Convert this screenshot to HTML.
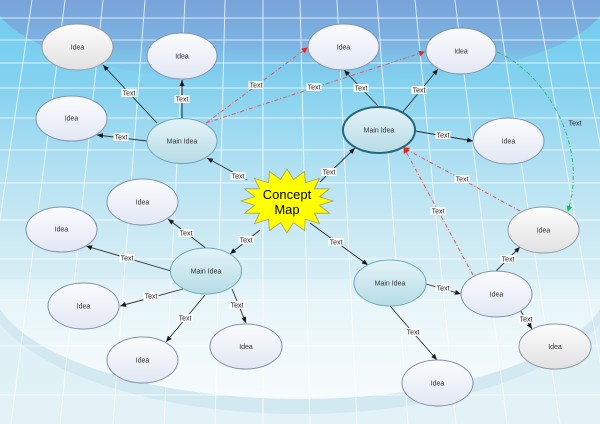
<!DOCTYPE html>
<html><head><meta charset="utf-8">
<style>
html,body{margin:0;padding:0;width:600px;height:424px;overflow:hidden;background:#dff1f6;}
svg{display:block;}
.lbl{font-family:"Liberation Sans",Arial,sans-serif;font-size:7px;fill:#222;text-anchor:middle;}
.nt{font-family:"Liberation Sans",Arial,sans-serif;font-size:7px;fill:#333;text-anchor:middle;}
</style></head>
<body>
<svg width="600" height="424" viewBox="0 0 600 424" xmlns="http://www.w3.org/2000/svg">
<defs>
  <linearGradient id="bg" x1="0" y1="0" x2="0" y2="424" gradientUnits="userSpaceOnUse">
    <stop offset="0" stop-color="#6ccbef"/>
    <stop offset="0.21" stop-color="#86d2ef"/>
    <stop offset="0.36" stop-color="#a9def2"/>
    <stop offset="0.52" stop-color="#c8e8f3"/>
    <stop offset="0.71" stop-color="#dcf0f6"/>
    <stop offset="1" stop-color="#e3f2f7"/>
  </linearGradient>
  <linearGradient id="topEl" x1="0" y1="0" x2="0" y2="85" gradientUnits="userSpaceOnUse">
    <stop offset="0" stop-color="#79a3d9" stop-opacity="1"/>
    <stop offset="0.5" stop-color="#7cb0e0" stop-opacity="0.9"/>
    <stop offset="1" stop-color="#82c4ea" stop-opacity="0"/>
  </linearGradient>
  <linearGradient id="inEl" x1="0" y1="250" x2="0" y2="400" gradientUnits="userSpaceOnUse">
    <stop offset="0" stop-color="#ffffff" stop-opacity="0"/>
    <stop offset="1" stop-color="#f5fbfd" stop-opacity="1"/>
  </linearGradient>
  <linearGradient id="gBlue" x1="0" y1="0" x2="0" y2="1">
    <stop offset="0" stop-color="#fbfcfe"/>
    <stop offset="1" stop-color="#e2e7f3"/>
  </linearGradient>
  <linearGradient id="gGray" x1="0" y1="0" x2="0" y2="1">
    <stop offset="0" stop-color="#fdfdfd"/>
    <stop offset="1" stop-color="#e1e1e1"/>
  </linearGradient>
  <linearGradient id="gTeal" x1="0" y1="0" x2="0" y2="1">
    <stop offset="0" stop-color="#e4f3f7"/>
    <stop offset="1" stop-color="#b6dce6"/>
  </linearGradient>
  <clipPath id="lowHalf"><rect x="0" y="279" width="600" height="145"/></clipPath>
  <marker id="ab" markerUnits="userSpaceOnUse" markerWidth="6" markerHeight="5" refX="6" refY="2.5" orient="auto">
    <path d="M0,0 L6,2.5 L0,5 z" fill="#1a1a1a"/>
  </marker>
  <marker id="ar" markerUnits="userSpaceOnUse" markerWidth="6" markerHeight="6" refX="5" refY="3" orient="auto">
    <path d="M0,0 L6,3 L0,6 z" fill="#ee2222"/>
  </marker>
  <marker id="ag" markerUnits="userSpaceOnUse" markerWidth="6" markerHeight="6" refX="5" refY="3" orient="auto">
    <path d="M0,0 L6,3 L0,6 z" fill="#22bb55"/>
  </marker>
</defs>

<!-- background -->
<rect x="0" y="0" width="600" height="424" fill="url(#bg)"/>
<ellipse cx="300" cy="0" rx="305" ry="85" fill="url(#topEl)"/>

<!-- bottom ellipse band -->
<ellipse cx="300" cy="279" rx="310" ry="120" fill="url(#inEl)" clip-path="url(#lowHalf)"/>
<path clip-path="url(#lowHalf)" fill-rule="evenodd" fill="#d2e9f1"
  d="M-18,279 A318,135 0 1,0 618,279 A318,135 0 1,0 -18,279 Z M-10,279 A310,120 0 1,0 610,279 A310,120 0 1,0 -10,279 Z"/>

<!-- grid -->
<g stroke="#ffffff" stroke-opacity="0.75" stroke-width="1" fill="none">
  <line x1="0" y1="18" x2="600" y2="18"/>
  <line x1="0" y1="40" x2="600" y2="40"/>
  <line x1="0" y1="63" x2="600" y2="63"/>
  <line x1="0" y1="88" x2="600" y2="88"/>
  <line x1="0" y1="118" x2="600" y2="118"/>
  <line x1="0" y1="150" x2="600" y2="150"/>
  <line x1="0" y1="183" x2="600" y2="183"/>
  <line x1="0" y1="220" x2="600" y2="220"/>
  <line x1="0" y1="259" x2="600" y2="259"/>
  <line x1="0" y1="300" x2="600" y2="300"/>
  <line x1="0" y1="346" x2="600" y2="346"/>
  <line x1="0" y1="395" x2="600" y2="395"/>
  <line x1="32" y1="0" x2="-30" y2="424"/>
  <line x1="65" y1="0" x2="11" y2="424"/>
  <line x1="103" y1="0" x2="60" y2="424"/>
  <line x1="145" y1="0" x2="113" y2="424"/>
  <line x1="185" y1="0" x2="164" y2="424"/>
  <line x1="225" y1="0" x2="215" y2="424"/>
  <line x1="263" y1="0" x2="263" y2="424"/>
  <line x1="300" y1="0" x2="310" y2="424"/>
  <line x1="337" y1="0" x2="357" y2="424"/>
  <line x1="377" y1="0" x2="408" y2="424"/>
  <line x1="415" y1="0" x2="456" y2="424"/>
  <line x1="455" y1="0" x2="507" y2="424"/>
  <line x1="497" y1="0" x2="560" y2="424"/>
  <line x1="537" y1="0" x2="611" y2="424"/>
  <line x1="572" y1="0" x2="655" y2="424"/>
</g>

<!-- black connectors -->
<g stroke="#2a2a2a" stroke-width="0.9" fill="none" marker-end="url(#ab)">
  <line x1="157" y1="123" x2="103" y2="65"/>
  <line x1="182" y1="118" x2="182" y2="80" stroke="#3c5a66" stroke-width="1.4"/>
  <line x1="147" y1="141" x2="97" y2="135"/>
  <line x1="247" y1="180" x2="207" y2="158"/>
  <line x1="379" y1="107" x2="344" y2="70"/>
  <line x1="402" y1="113" x2="438" y2="69"/>
  <line x1="415" y1="131" x2="473" y2="141"/>
  <line x1="320" y1="182" x2="355" y2="148"/>
  <line x1="260" y1="230" x2="230" y2="254"/>
  <line x1="310" y1="223" x2="368" y2="265"/>
  <line x1="207" y1="249" x2="168" y2="219"/>
  <line x1="171" y1="271" x2="86" y2="246"/>
  <line x1="183" y1="289" x2="120" y2="306"/>
  <line x1="205" y1="295" x2="166" y2="342"/>
  <line x1="232" y1="289" x2="246" y2="323"/>
  <line x1="426" y1="284" x2="461" y2="294"/>
  <line x1="390" y1="306" x2="437" y2="360"/>
  <line x1="496" y1="271" x2="520" y2="247"/>
  <line x1="520" y1="310" x2="532" y2="329"/>
</g>

<!-- red dashed connectors -->
<g stroke="#e35a5a" stroke-width="1" fill="none" stroke-dasharray="4 2 1 2" marker-end="url(#ar)">
  <line x1="206" y1="123" x2="307" y2="48"/>
  <line x1="206" y1="123" x2="424" y2="52"/>
  <line x1="473" y1="275" x2="404" y2="148"/>
  <line x1="520" y1="211" x2="404" y2="148"/>
</g>
<!-- green dashed curve -->
<path d="M497,52 C540,70 590,140 568,211" stroke="#2fbb72" stroke-width="1" fill="none" stroke-dasharray="4 2 1 2" marker-end="url(#ag)"/>

<!-- nodes -->
<g stroke-width="1">
  <ellipse cx="77.5" cy="47" rx="35.5" ry="23" fill="url(#gGray)" stroke="#8f9aa6"/>
  <ellipse cx="182" cy="56" rx="35" ry="23" fill="url(#gBlue)" stroke="#7f93ad"/>
  <ellipse cx="71.5" cy="118.5" rx="35.5" ry="22.5" fill="url(#gBlue)" stroke="#7f93ad"/>
  <ellipse cx="182" cy="141" rx="35" ry="22.5" fill="url(#gTeal)" stroke="#6ea8bb"/>
  <ellipse cx="142.5" cy="202" rx="35.5" ry="23" fill="url(#gBlue)" stroke="#7f93ad"/>
  <ellipse cx="61.5" cy="229.5" rx="35.5" ry="22.5" fill="url(#gBlue)" stroke="#7f93ad"/>
  <ellipse cx="206" cy="271" rx="35.5" ry="23" fill="url(#gTeal)" stroke="#6ea8bb"/>
  <ellipse cx="83.5" cy="306" rx="35.5" ry="23" fill="url(#gBlue)" stroke="#7f93ad"/>
  <ellipse cx="142.5" cy="360" rx="35.5" ry="23" fill="url(#gBlue)" stroke="#7f93ad"/>
  <ellipse cx="246" cy="346.5" rx="36" ry="22.5" fill="url(#gBlue)" stroke="#7f93ad"/>
  <ellipse cx="343.5" cy="47" rx="35.5" ry="23" fill="url(#gBlue)" stroke="#7f93ad"/>
  <ellipse cx="461" cy="51" rx="35" ry="23" fill="url(#gBlue)" stroke="#7f93ad"/>
  <ellipse cx="379" cy="130" rx="36" ry="23" fill="url(#gTeal)" stroke="#27687c" stroke-width="2"/>
  <ellipse cx="508.5" cy="141" rx="35.5" ry="23" fill="url(#gBlue)" stroke="#7f93ad"/>
  <ellipse cx="543.5" cy="230" rx="35.5" ry="23" fill="url(#gGray)" stroke="#8f9aa6"/>
  <ellipse cx="390" cy="283" rx="36" ry="23" fill="url(#gTeal)" stroke="#6ea8bb"/>
  <ellipse cx="496.5" cy="294" rx="35.5" ry="23" fill="url(#gBlue)" stroke="#7f93ad"/>
  <ellipse cx="555" cy="346.5" rx="36" ry="22.5" fill="url(#gGray)" stroke="#8f9aa6"/>
  <ellipse cx="437.5" cy="383" rx="35.5" ry="23" fill="url(#gBlue)" stroke="#7f93ad"/>
</g>
<g class="nt">
  <text class="nt" x="77.5" y="49.5">Idea</text>
  <text class="nt" x="182" y="58.5">Idea</text>
  <text class="nt" x="71.5" y="120.5">Idea</text>
  <text class="nt" x="182" y="143.5">Main Idea</text>
  <text class="nt" x="142.5" y="204.5">Idea</text>
  <text class="nt" x="61.5" y="231.5">Idea</text>
  <text class="nt" x="206" y="273.5">Main Idea</text>
  <text class="nt" x="83.5" y="308.5">Idea</text>
  <text class="nt" x="142.5" y="362.5">Idea</text>
  <text class="nt" x="246" y="349">Idea</text>
  <text class="nt" x="343.5" y="49.5">Idea</text>
  <text class="nt" x="461" y="53.5">Idea</text>
  <text class="nt" x="379" y="132.5">Main Idea</text>
  <text class="nt" x="508.5" y="143.5">Idea</text>
  <text class="nt" x="543.5" y="232.5">Idea</text>
  <text class="nt" x="390" y="285.5">Main Idea</text>
  <text class="nt" x="496.5" y="296.5">Idea</text>
  <text class="nt" x="555" y="349">Idea</text>
  <text class="nt" x="437.5" y="385.5">Idea</text>
</g>

<!-- starburst -->
<polygon fill="#ffff00" stroke="#a0a060" stroke-width="0.8"
 points="287,169 293.4,179.4 304.6,171.4 305.3,182.7 319.5,178.4 314.4,188.8 329.5,188.8 319.4,196.7 333,201 319.4,205.3 329.5,213.2 314.4,213.2 319.5,223.6 305.3,219.3 304.6,230.6 293.4,222.6 287,233 280.6,222.6 269.4,230.6 268.7,219.3 254.5,223.6 259.6,213.2 244.5,213.2 254.6,205.3 241,201 254.6,196.7 244.5,188.8 259.6,188.8 254.5,178.4 268.7,182.7 269.4,171.4 280.6,179.4"/>
<text x="287" y="199" font-family="Liberation Sans, Arial, sans-serif" font-size="13" fill="#000" text-anchor="middle">Concept</text>
<text x="287" y="214" font-family="Liberation Sans, Arial, sans-serif" font-size="13" fill="#000" text-anchor="middle">Map</text>

<!-- labels -->
<g fill="#ffffff">
  <rect x="121.5" y="89" width="15" height="8"/>
  <rect x="174.5" y="95" width="15" height="8"/>
  <rect x="113.5" y="133" width="15" height="8"/>
  <rect x="230.5" y="172" width="15" height="8"/>
  <rect x="353.5" y="84" width="15" height="8"/>
  <rect x="411.5" y="86" width="15" height="8"/>
  <rect x="435.5" y="131" width="15" height="8"/>
  <rect x="321.5" y="168" width="15" height="8"/>
  <rect x="238.5" y="236" width="15" height="8"/>
  <rect x="328.5" y="238" width="15" height="8"/>
  <rect x="178.5" y="229" width="15" height="8"/>
  <rect x="119.5" y="254" width="15" height="8"/>
  <rect x="143.5" y="292" width="15" height="8"/>
  <rect x="177.5" y="314" width="15" height="8"/>
  <rect x="229.5" y="301" width="15" height="8"/>
  <rect x="435.5" y="284" width="15" height="8"/>
  <rect x="405.5" y="328" width="15" height="8"/>
  <rect x="500.5" y="255" width="15" height="8"/>
  <rect x="518.5" y="315" width="15" height="8"/>
  <rect x="248.5" y="81" width="15" height="8"/>
  <rect x="306.5" y="83" width="15" height="8"/>
  <rect x="430.5" y="207" width="15" height="8"/>
  <rect x="454.5" y="175" width="15" height="8"/>
</g>
<g>
  <text class="lbl" x="129" y="95.5">Text</text>
  <text class="lbl" x="182" y="101.5">Text</text>
  <text class="lbl" x="121" y="139.5">Text</text>
  <text class="lbl" x="238" y="178.5">Text</text>
  <text class="lbl" x="361" y="90.5">Text</text>
  <text class="lbl" x="419" y="92.5">Text</text>
  <text class="lbl" x="443" y="137.5">Text</text>
  <text class="lbl" x="329" y="174.5">Text</text>
  <text class="lbl" x="246" y="242.5">Text</text>
  <text class="lbl" x="336" y="244.5">Text</text>
  <text class="lbl" x="186" y="235.5">Text</text>
  <text class="lbl" x="127" y="260.5">Text</text>
  <text class="lbl" x="151" y="298.5">Text</text>
  <text class="lbl" x="185" y="320.5">Text</text>
  <text class="lbl" x="237" y="307.5">Text</text>
  <text class="lbl" x="443" y="290.5">Text</text>
  <text class="lbl" x="413" y="334.5">Text</text>
  <text class="lbl" x="508" y="261.5">Text</text>
  <text class="lbl" x="526" y="321.5">Text</text>
  <text class="lbl" x="256" y="87.5">Text</text>
  <text class="lbl" x="314" y="89.5">Text</text>
  <text class="lbl" x="438" y="213.5">Text</text>
  <text class="lbl" x="462" y="181.5">Text</text>
  <text class="lbl" x="575" y="125.5">Text</text>
</g>
</svg>
</body></html>
